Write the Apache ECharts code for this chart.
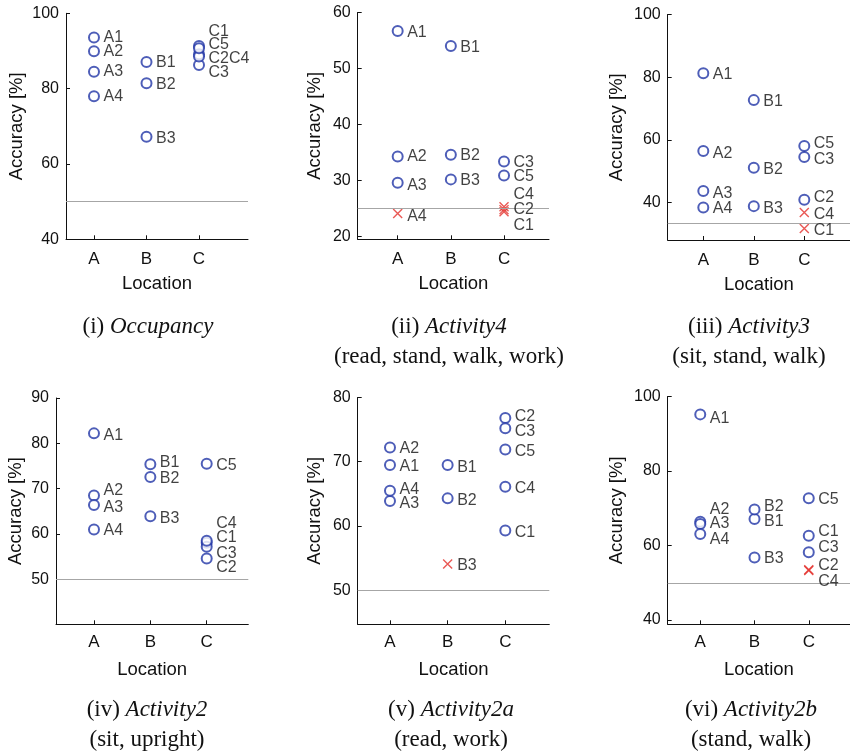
<!DOCTYPE html>
<html>
<head>
<meta charset="utf-8">
<script src="https://cdn.jsdelivr.net/npm/echarts@6/dist/echarts.min.js"></script>
<style>
  html, body { margin: 0; padding: 0; background: #fff; }
  #chart { width: 850px; height: 753px; }
</style>
</head>
<body>
<div id="chart"></div>
<script>
// locations on the x axis and the sensor names plotted on them
var locations = ["A", "B", "C"];
var pointNames = ["A1", "A2", "A3", "A4", "B1", "B2", "B3", "C1", "C2", "C3", "C4", "C5"];

// (i) Occupancy
var occupancyAcc = [93.6, 89.9, 84.5, 78.0, 87.1, 81.4, 67.2, 91.3, 89.1, 86.3, 88.5, 90.7];
var occupancyCross = [];
var occupancyLabels = ["A1", "A2", "A3", "A4", "B1", "B2", "B3", "C1", "C5", "C2C4", "C3"];
var occupancyLabelAt = [93.6, 89.9, 84.5, 78.0, 86.8, 81.0, 66.8, 95.1, 91.6, 88.0, 84.2];
var occupancyTicks = [40, 60, 80, 100];
var occupancyChance = 50;

// (ii) Activity4
var activity4Acc = [56.7, 34.3, 29.6, 24.1, 54.0, 34.6, 30.2, 24.4, 24.8, 33.4, 25.3, 30.9];
var activity4Cross = ["A4", "C1", "C2", "C4"];
var activity4Labels = ["A1", "A2", "A3", "A4", "B1", "B2", "B3", "C3", "C5", "C4", "C2", "C1"];
var activity4LabelAt = [56.5, 34.2, 29.1, 23.5, 53.7, 34.4, 29.9, 33.2, 30.7, 27.5, 24.8, 21.9];
var activity4Ticks = [20, 30, 40, 50, 60];
var activity4Chance = 25;

// (iii) Activity3
var activity3Acc = [81.3, 56.5, 43.7, 38.5, 72.7, 51.1, 38.9, 31.8, 40.9, 54.6, 36.9, 58.1];
var activity3Cross = ["C1", "C4"];
var activity3Labels = ["A1", "A2", "A3", "A4", "B1", "B2", "B3", "C5", "C3", "C2", "C4", "C1"];
var activity3LabelAt = [80.8, 55.8, 43.0, 38.2, 72.2, 50.7, 38.2, 58.9, 53.8, 41.7, 36.1, 31.2];
var activity3Ticks = [40, 60, 80, 100];
var activity3Chance = 33.33;

// (iv) Activity2
var activity2Acc = [82.2, 68.5, 66.4, 61.0, 75.4, 72.6, 63.9, 58.1, 54.6, 57.2, 58.5, 75.5];
var activity2Cross = [];
var activity2Labels = ["A1", "A2", "A3", "A4", "B1", "B2", "B3", "C5", "C4", "C1", "C3", "C2"];
var activity2LabelAt = [81.8, 69.5, 65.9, 60.7, 75.8, 72.3, 63.3, 75.2, 62.4, 59.3, 55.7, 52.6];
var activity2Ticks = [50, 60, 70, 80, 90];
var activity2Chance = 50;

// (v) Activity2a
var activity2aAcc = [69.5, 72.2, 63.9, 65.5, 69.5, 64.3, 54.1, 59.3, 76.8, 75.2, 66.1, 71.9];
var activity2aCross = ["B3"];
var activity2aLabels = ["A2", "A1", "A4", "A3", "B1", "B2", "B3", "C2", "C3", "C5", "C4", "C1"];
var activity2aLabelAt = [72.1, 69.2, 65.6, 63.5, 69.1, 64.0, 53.8, 77.0, 74.7, 71.6, 65.8, 59.0];
var activity2aTicks = [50, 60, 70, 80];
var activity2aChance = 50;

// (vi) Activity2b
var activity2bAcc = [95.2, 66.4, 65.8, 63.1, 67.1, 69.7, 56.8, 62.6, 53.5, 58.2, 53.3, 72.7];
var activity2bCross = ["C2", "C4"];
var activity2bLabels = ["A1", "A2", "A3", "A4", "B2", "B1", "B3", "C5", "C1", "C3", "C2", "C4"];
var activity2bLabelAt = [94.1, 69.7, 65.8, 61.5, 70.4, 66.4, 56.6, 72.4, 63.7, 59.5, 54.6, 50.4];
var activity2bTicks = [40, 60, 80, 100];
var activity2bChance = 50;

var BLUE = "#2236a6";
var RED = "#e3302a";
var INK = "#111";
var SANS = "Liberation Sans";
var SERIF = "Liberation Serif";

// layout of each panel: grid box in px, axis ranges, name gaps
var panels = [
  { acc: occupancyAcc, cross: occupancyCross, labels: occupancyLabels, labelAt: occupancyLabelAt,
    ticks: occupancyTicks, chance: occupancyChance,
    left: 66, top: 13.3, width: 182, height: 226, ymin: 40, ymax: 100, xmin: 0.467, xmax: 3.933,
    yGap: 40, xGap: 35, xMargin: 12, cap: ["(i) ", "Occupancy", ""], capX: 148, capY: 327 },
  { acc: activity4Acc, cross: activity4Cross, labels: activity4Labels, labelAt: activity4LabelAt,
    ticks: activity4Ticks, chance: activity4Chance,
    left: 357.7, top: 12.5, width: 191.3, height: 226.8, ymin: 19.5, ymax: 60, xmin: 0.248, xmax: 3.846,
    yGap: 33, xGap: 35, xMargin: 12, cap: ["(ii) ", "Activity4", "(read, stand, walk, work)"], capX: 449, capY: 327 },
  { acc: activity3Acc, cross: activity3Cross, labels: activity3Labels, labelAt: activity3LabelAt,
    ticks: activity3Ticks, chance: activity3Chance,
    left: 667.7, top: 14.5, width: 182.3, height: 225.5, ymin: 28.1, ymax: 100, xmin: 0.295, xmax: 3.905,
    yGap: 41, xGap: 35, xMargin: 12, cap: ["(iii) ", "Activity3", "(sit, stand, walk)"], capX: 749, capY: 327 },
  { acc: activity2Acc, cross: activity2Cross, labels: activity2Labels, labelAt: activity2LabelAt,
    ticks: activity2Ticks, chance: activity2Chance,
    left: 56, top: 398, width: 192.3, height: 226.3, ymin: 40.1, ymax: 90, xmin: 0.326, xmax: 3.738,
    yGap: 31, xGap: 36, xMargin: 10, cap: ["(iv) ", "Activity2", "(sit, upright)"], capX: 147, capY: 710 },
  { acc: activity2aAcc, cross: activity2aCross, labels: activity2aLabels, labelAt: activity2aLabelAt,
    ticks: activity2aTicks, chance: activity2aChance,
    left: 357.7, top: 397.5, width: 191.6, height: 226.8, ymin: 44.7, ymax: 80, xmin: 0.44, xmax: 3.763,
    yGap: 33, xGap: 36, xMargin: 10, cap: ["(v) ", "Activity2a", "(read, work)"], capX: 451, capY: 710 },
  { acc: activity2bAcc, cross: activity2bCross, labels: activity2bLabels, labelAt: activity2bLabelAt,
    ticks: activity2bTicks, chance: activity2bChance,
    left: 667.7, top: 396.5, width: 182.3, height: 227.8, ymin: 38.85, ymax: 100, xmin: 0.4, xmax: 3.76,
    yGap: 41, xGap: 36, xMargin: 10, cap: ["(vi) ", "Activity2b", "(stand, walk)"], capX: 751, capY: 710 }
];

function locOf(name) {
  return locations.indexOf(name.charAt(0)) + 1;
}

var grids = [], xAxes = [], yAxes = [], series = [], graphics = [];

panels.forEach(function (p, i) {
  grids.push({ left: p.left, top: p.top, width: p.width, height: p.height, outerBoundsMode: "none" });

  xAxes.push({
    gridIndex: i, type: "value", min: p.xmin, max: p.xmax,
    name: "Location", nameLocation: "middle", nameGap: p.xGap,
    nameTextStyle: { fontFamily: SANS, fontSize: 18.5, color: INK },
    axisLine: { show: true, lineStyle: { color: INK, width: 1 } },
    axisTick: { show: true, inside: true, length: 4, customValues: [1, 2, 3], lineStyle: { color: INK } },
    axisLabel: {
      customValues: [1, 2, 3], margin: p.xMargin, fontFamily: SANS, fontSize: 17, color: INK,
      formatter: function (v) { return locations[Math.round(v) - 1] || ""; }
    },
    splitLine: { show: false }
  });

  yAxes.push({
    gridIndex: i, type: "value", min: p.ymin, max: p.ymax,
    name: "Accuracy [%]", nameLocation: "middle", nameGap: p.yGap,
    nameTextStyle: { fontFamily: SANS, fontSize: 18.5, color: INK },
    axisLine: { show: true, lineStyle: { color: INK, width: 1 } },
    axisTick: { show: true, inside: true, length: 4, customValues: p.ticks, lineStyle: { color: INK } },
    axisLabel: { customValues: p.ticks, margin: 7, fontFamily: SANS, fontSize: 16, color: INK },
    splitLine: { show: false }
  });

  var circles = [], crosses = [];
  pointNames.forEach(function (n, k) {
    var pt = { name: n, value: [locOf(n), p.acc[k]] };
    if (p.cross.indexOf(n) >= 0) crosses.push(pt); else circles.push(pt);
  });

  series.push({
    type: "scatter", xAxisIndex: i, yAxisIndex: i, silent: true, z: 3,
    symbol: "emptyCircle", symbolSize: 10,
    itemStyle: { color: BLUE, borderColor: BLUE, borderWidth: 1.3 },
    data: circles,
    markLine: {
      silent: true, symbol: ["none", "none"], animation: false,
      lineStyle: { color: "#a6a6a6", width: 1.2, type: "solid" },
      label: { show: false },
      data: [{ yAxis: p.chance }]
    }
  });

  series.push({
    type: "scatter", xAxisIndex: i, yAxisIndex: i, silent: true, z: 4,
    symbol: "path://M0,0L10,10M10,0L0,10", symbolSize: 9,
    itemStyle: { color: "transparent", borderColor: RED, borderWidth: 1.4 },
    data: crosses
  });

  series.push({
    type: "scatter", xAxisIndex: i, yAxisIndex: i, silent: true, z: 5,
    symbolSize: 1, itemStyle: { color: "transparent" },
    label: {
      show: true, position: "right", distance: 9, formatter: "{b}",
      fontFamily: SANS, fontSize: 16, color: INK
    },
    data: p.labels.map(function (t, k) {
      return { name: t, value: [locOf(t), p.labelAt[k]] };
    })
  });

  graphics.push({
    type: "text", x: p.capX, y: p.capY,
    style: {
      text: "{n|" + p.cap[0] + "}{it|" + p.cap[1] + "}",
      align: "center", verticalAlign: "middle",
      rich: {
        n: { fontFamily: SERIF, fontSize: 23, fill: INK },
        it: { fontFamily: SERIF, fontSize: 23, fontStyle: "italic", fill: INK }
      }
    }
  });
  if (p.cap[2]) {
    graphics.push({
      type: "text", x: p.capX, y: p.capY + 30,
      style: {
        text: p.cap[2], align: "center", verticalAlign: "middle",
        fontFamily: SERIF, fontSize: 23, fill: INK
      }
    });
  }
});

var myChart = echarts.init(document.getElementById("chart"), null, { renderer: "canvas" });
myChart.setOption({
  animation: false,
  backgroundColor: "#fff",
  grid: grids,
  xAxis: xAxes,
  yAxis: yAxes,
  series: series,
  graphic: graphics
});
</script>
</body>
</html>
